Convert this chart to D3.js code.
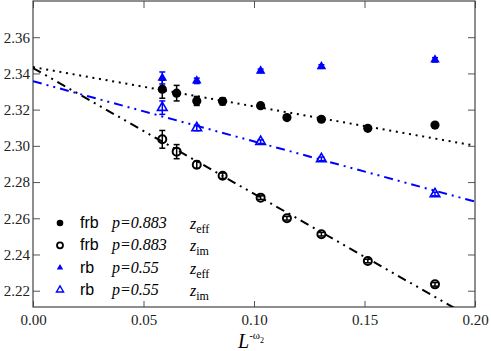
<!DOCTYPE html>
<html>
<head>
<style type="text/css">
  body { margin: 0; background: white; }
  svg { display: block; }
</style>
</head>
<body>
<div class="container"></div>
<script src="https://d3js.org/d3.v7.min.js"></script>
<script type="text/javascript">
var wd = 491, ht = 351
var m = {left: 33, right: 16, top: 1, bottom: 44}
var serif = "'Liberation Serif', 'DejaVu Serif', 'Times New Roman', serif"
var sans = "'Liberation Sans', Arial, sans-serif"

// data
var xFrb = [0.0585, 0.065, 0.0741, 0.0858, 0.103, 0.1149, 0.1305, 0.1515, 0.1819]
var frbEff = [2.3313, 2.3291, 2.3248, 2.3246, 2.3222, 2.3156, 2.3147, 2.3097, 2.3115]
var frbEffErr = [0.005, 0.0043, 0.0025, 0.002, 0.0012, 0.0012, 0.001, 0.001, 0.001]
var frbIm = [2.3036, 2.2968, 2.2896, 2.2835, 2.2714, 2.2600, 2.2512, 2.2364, 2.2235]
var frbImErr = [0.0049, 0.0039, 0.002, 0.0015, 0.001, 0.001, 0.001, 0.001, 0.001]

var xRb = [0.0585, 0.0741, 0.103, 0.1305, 0.1819]
var rbEff = [2.3375, 2.3359, 2.3414, 2.3438, 2.3475]
var rbEffErr = [0.0033, 0.0015, 0.001, 0.001, 0.0012]
var rbIm = [2.3211, 2.3099, 2.3023, 2.2928, 2.2734]
var rbImErr = [0.0037, 0.0015, 0.001, 0.001, 0.001]

// fit line end points
var fitFrbEff = [[0, 2.3435], [0.2, 2.3001]]
var fitFrbIm = [[0, 2.343], [0.2, 2.204]]
var fitRbIm = [[0, 2.3357], [0.2, 2.2692]]

var xTicks = [0, 0.05, 0.10, 0.15, 0.20]
var yTicks = [2.22, 2.24, 2.26, 2.28, 2.30, 2.32, 2.34, 2.36]

var blue = "#0000ff"

var svg = d3.select(".container").append("svg")
  .attr("width", wd).attr("height", ht)

var x = d3.scaleLinear().domain([0, 0.2]).range([m.left, wd - m.right])
var y = d3.scaleLinear().domain([2.211, 2.38]).range([ht - m.bottom, m.top])

svg.append("clipPath").attr("id", "clip")
  .append("rect")
  .attr("x", x(0)).attr("y", y(2.38))
  .attr("width", x(0.2) - x(0)).attr("height", y(2.211) - y(2.38))

// axes, ticks pointing in on all sides
var tickCol = "#555"
function styleAxis(g) {
  g.select(".domain").remove()
  g.selectAll(".tick line").attr("stroke", tickCol)
}
svg.append("g").attr("transform", "translate(0," + y(2.211) + ")")
  .call(d3.axisBottom(x).tickValues(xTicks).tickSize(-6).tickPadding(7).tickFormat(d3.format(".2f")))
  .call(styleAxis)
svg.append("g").attr("transform", "translate(0," + y(2.38) + ")")
  .call(d3.axisTop(x).tickValues(xTicks).tickSize(-7).tickFormat(""))
  .call(styleAxis)
svg.append("g").attr("transform", "translate(" + x(0) + ",0)")
  .call(d3.axisLeft(y).tickValues(yTicks).tickSize(-7).tickPadding(3).tickFormat(d3.format(".2f")))
  .call(styleAxis)
svg.append("g").attr("transform", "translate(" + x(0.2) + ",0)")
  .call(d3.axisRight(y).tickValues(yTicks).tickSize(-7).tickFormat(""))
  .call(styleAxis)

svg.selectAll("g").attr("font-family", null)
svg.selectAll(".tick text")
  .style("font-family", serif)
  .style("font-size", "15px")
  .attr("fill", "#222")

svg.append("rect")
  .attr("x", x(0)).attr("y", y(2.38))
  .attr("width", x(0.2) - x(0)).attr("height", y(2.211) - y(2.38))
  .attr("fill", "none").attr("stroke", "#444").attr("stroke-width", 1.2)

// fit lines
var line = d3.line().x(function(d) { return x(d[0]) }).y(function(d) { return y(d[1]) })
var fits = svg.append("g").attr("clip-path", "url(#clip)")
fits.append("path").attr("d", line(fitFrbEff))
  .attr("fill", "none").attr("stroke", "black").attr("stroke-width", 2)
  .attr("stroke-dasharray", "2,4.7")
fits.append("path").attr("d", line(fitFrbIm))
  .attr("fill", "none").attr("stroke", "black").attr("stroke-width", 2)
  .attr("stroke-dasharray", "9,5,2,5,2,5")
fits.append("path").attr("d", line(fitRbIm))
  .attr("fill", "none").attr("stroke", blue).attr("stroke-width", 2)
  .attr("stroke-dasharray", "9,5,2,5,2,5")

// error bars
function errBars(xs, ys, es, col) {
  var g = svg.append("g").attr("stroke", col).attr("stroke-width", 1.5)
  xs.forEach(function(xv, i) {
    var px = x(xv), y1 = y(ys[i] + es[i]), y2 = y(ys[i] - es[i])
    g.append("line").attr("x1", px).attr("x2", px).attr("y1", y1).attr("y2", y2)
    g.append("line").attr("x1", px - 3).attr("x2", px + 3).attr("y1", y1).attr("y2", y1)
    g.append("line").attr("x1", px - 3).attr("x2", px + 3).attr("y1", y2).attr("y2", y2)
  })
}
errBars(xFrb, frbEff, frbEffErr, "black")
errBars(xFrb, frbIm, frbImErr, "black")
errBars(xRb, rbEff, rbEffErr, blue)
errBars(xRb, rbIm, rbImErr, blue)

var tri = d3.symbol().type(d3.symbolTriangle)

svg.append("g").selectAll("circle").data(xFrb).enter().append("circle")
  .attr("cx", function(d) { return x(d) })
  .attr("cy", function(d, i) { return y(frbEff[i]) })
  .attr("r", 4.6).attr("fill", "black")
svg.append("g").selectAll("circle").data(xFrb).enter().append("circle")
  .attr("cx", function(d) { return x(d) })
  .attr("cy", function(d, i) { return y(frbIm[i]) })
  .attr("r", 4).attr("fill", "none").attr("stroke", "black").attr("stroke-width", 2)
svg.append("g").selectAll("path").data(xRb).enter().append("path")
  .attr("d", tri.size(40)())
  .attr("transform", function(d, i) { return "translate(" + x(d) + "," + y(rbEff[i]) + ")" })
  .attr("fill", blue)
svg.append("g").selectAll("path").data(xRb).enter().append("path")
  .attr("d", tri.size(40)())
  .attr("transform", function(d, i) { return "translate(" + x(d) + "," + y(rbIm[i]) + ")" })
  .attr("fill", "none").attr("stroke", blue).attr("stroke-width", 1.6)

// legend
var legNames = ["frb", "frb", "rb", "rb"]
var legP = ["p=0.883", "p=0.883", "p=0.55", "p=0.55"]
var legSub = ["eff", "im", "eff", "im"]
var leg = svg.append("g")
legNames.forEach(function(nm, i) {
  var ly = 223 + i * 22.3
  if (i == 0) leg.append("circle").attr("cx", 60).attr("cy", ly).attr("r", 3.3).attr("fill", "black")
  if (i == 1) leg.append("circle").attr("cx", 60).attr("cy", ly).attr("r", 3).attr("fill", "none").attr("stroke", "black").attr("stroke-width", 1.8)
  if (i == 2) leg.append("path").attr("d", tri.size(18)()).attr("transform", "translate(60," + ly + ")").attr("fill", blue)
  if (i == 3) leg.append("path").attr("d", tri.size(22)()).attr("transform", "translate(60," + ly + ")").attr("fill", "none").attr("stroke", blue).attr("stroke-width", 1.4)
  leg.append("text").attr("x", 80).attr("y", ly + 5).text(nm)
    .style("font-family", sans).style("font-size", "16px")
  leg.append("text").attr("x", 112).attr("y", ly + 5).text(legP[i])
    .style("font-family", serif).style("font-style", "italic").style("font-size", "16px")
  var t = leg.append("text").attr("x", 190).attr("y", ly + 6)
    .style("font-family", serif).style("font-size", "16px")
  t.append("tspan").text("z").style("font-style", "italic")
  t.append("tspan").attr("dy", 4).style("font-size", "12px").text(legSub[i])
})

// x label
var xl = svg.append("text").attr("x", 238).attr("y", 348)
  .style("font-family", serif).style("font-size", "20px")
xl.append("tspan").text("L").style("font-style", "italic")
xl.append("tspan").attr("dy", -9).style("font-size", "11px").text("-ω")
xl.append("tspan").attr("dy", 4).style("font-size", "8px").text("2")
</script>
</body>
</html>
